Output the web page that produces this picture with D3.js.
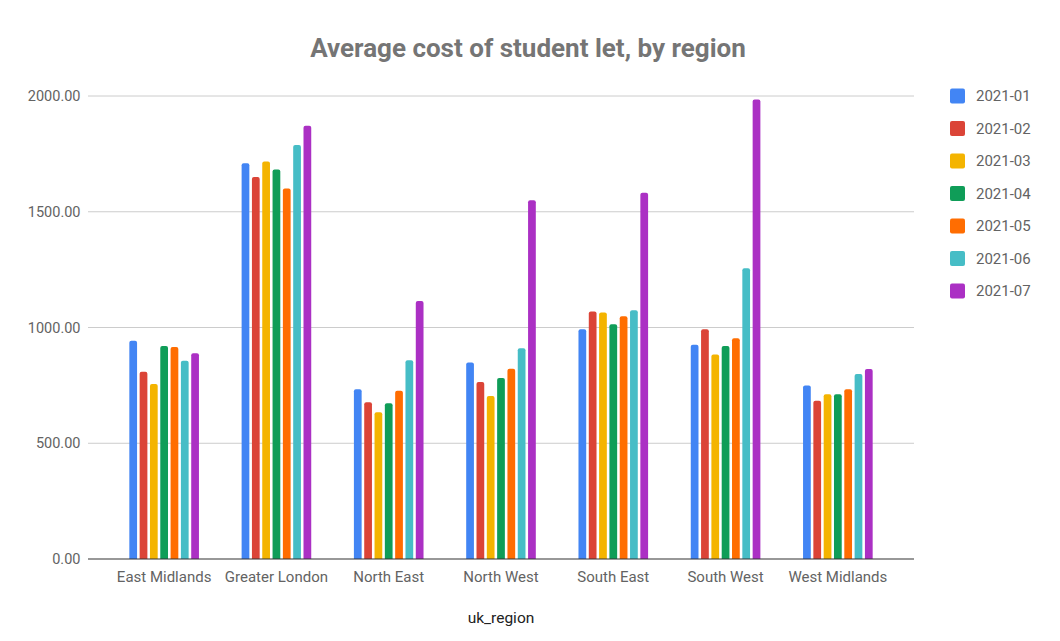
<!DOCTYPE html>
<html>
<head>
<meta charset="utf-8">
<script src="https://cdn.jsdelivr.net/npm/d3@7"></script>
<style>
  html, body { margin: 0; padding: 0; background: #fff; }
  svg { display: block; font-family: Roboto, "Noto Sans", sans-serif; }
</style>
</head>
<body>
<svg id="chart" width="1060" height="641"></svg>
<script>
const regions = ["East Midlands", "Greater London", "North East", "North West", "South East", "South West", "West Midlands"];
const months = ["2021-01", "2021-02", "2021-03", "2021-04", "2021-05", "2021-06", "2021-07"];
const colors = ["#4285f4", "#db4437", "#f4b400", "#0f9d58", "#ff6d01", "#46bdc6", "#ab30c4"];
const yTicks = [0, 500, 1000, 1500, 2000];

// values per month (series), one entry per region
const v2021_01 = [943, 1710, 733, 849, 992, 926, 749];
const v2021_02 = [809, 1650, 677, 765, 1069, 992, 684];
const v2021_03 = [756, 1717, 634, 704, 1065, 883, 712];
const v2021_04 = [920, 1682, 673, 782, 1014, 920, 712];
const v2021_05 = [916, 1600, 727, 822, 1049, 954, 733];
const v2021_06 = [856, 1788, 859, 910, 1075, 1256, 799];
const v2021_07 = [889, 1871, 1114, 1550, 1582, 1985, 821];
const seriesValues = [v2021_01, v2021_02, v2021_03, v2021_04, v2021_05, v2021_06, v2021_07];

const svg = d3.select("#chart");
const plot = { left: 88, right: 914, top: 96, bottom: 559 };

const y = d3.scaleLinear().domain([0, 2000]).range([plot.bottom, plot.top]);
const x0 = d3.scaleBand().domain(regions).range([108, 894]).paddingInner(0.38).paddingOuter(0.19);
const x1 = d3.scaleBand().domain(months).range([0, x0.bandwidth()]).paddingInner(0.25);
const color = d3.scaleOrdinal().domain(months).range(colors);

// title
svg.append("text")
  .attr("x", 528).attr("y", 57)
  .attr("text-anchor", "middle")
  .attr("font-size", 26).attr("font-weight", "bold")
  .attr("fill", "#757575")
  .text("Average cost of student let, by region");

// gridlines
svg.append("g").selectAll("line").data(yTicks.filter(d => d > 0)).join("line")
  .attr("x1", plot.left).attr("x2", plot.right)
  .attr("y1", d => y(d)).attr("y2", d => y(d))
  .attr("stroke", "#cccccc").attr("stroke-width", 1);

// y axis labels
const yAxis = d3.axisLeft(y).tickValues(yTicks).tickFormat(d3.format(".2f")).tickSize(0).tickPadding(7.5);
const gy = svg.append("g").attr("transform", `translate(${plot.left},0)`).call(yAxis);
gy.select(".domain").remove();
gy.selectAll("text").attr("font-size", 14.5).attr("fill", "#636363").attr("font-family", "Roboto, sans-serif");

// bars
const rows = regions.map((r, i) => ({ region: r, vals: months.map((m, j) => ({ month: m, value: seriesValues[j][i] })) }));
function barPath(x, w, yTop, yBot) {
  const r = Math.min(2, w / 2);
  return `M${x},${yBot}V${yTop + r}Q${x},${yTop} ${x + r},${yTop}H${x + w - r}Q${x + w},${yTop} ${x + w},${yTop + r}V${yBot}Z`;
}
svg.append("g").selectAll("g").data(rows).join("g")
  .attr("transform", d => `translate(${x0(d.region)},0)`)
  .selectAll("path").data(d => d.vals).join("path")
  .attr("d", d => barPath(x1(d.month), x1.bandwidth(), y(d.value), y(0)))
  .attr("fill", d => color(d.month));

// x axis
const xAxis = d3.axisBottom(x0).tickSize(0).tickPadding(12);
const gx = svg.append("g").attr("transform", `translate(0,${plot.bottom})`).call(xAxis);
gx.select(".domain").remove();
gx.selectAll("text").attr("font-size", 15).attr("fill", "#636363").attr("font-family", "Roboto, sans-serif");
svg.append("line")
  .attr("x1", plot.left).attr("x2", plot.right)
  .attr("y1", y(0)).attr("y2", y(0))
  .attr("stroke", "#333333").attr("stroke-width", 1.2);

// x axis title
svg.append("text")
  .attr("x", 501).attr("y", 623)
  .attr("text-anchor", "middle")
  .attr("font-size", 15.5).attr("fill", "#222222")
  .text("uk_region");

// legend
const leg = svg.append("g").selectAll("g").data(months).join("g")
  .attr("transform", (d, i) => `translate(950,${96 + i * 32.5})`);
leg.append("rect")
  .attr("x", 0).attr("y", -7.5).attr("width", 15).attr("height", 15).attr("rx", 2)
  .attr("fill", d => color(d));
leg.append("text")
  .attr("x", 26).attr("y", 0).attr("dy", "0.35em")
  .attr("font-size", 15).attr("fill", "#636363")
  .text(d => d);
</script>
</body>
</html>
